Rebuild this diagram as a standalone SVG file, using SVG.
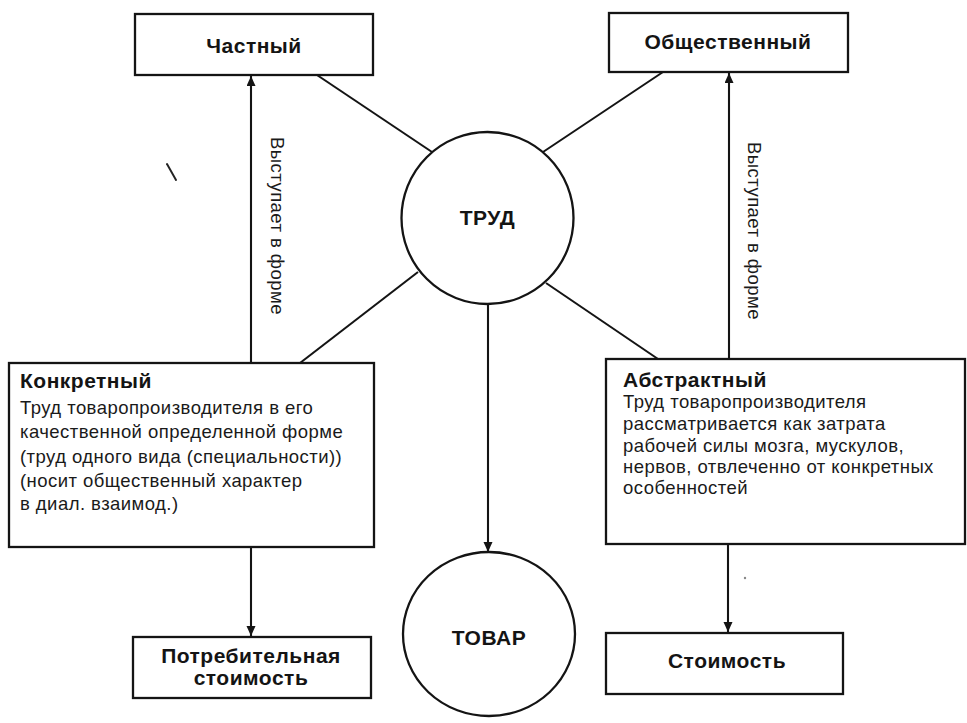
<svg xmlns="http://www.w3.org/2000/svg" width="967" height="723" viewBox="0 0 967 723">
  <style>
    .box { fill: none; stroke: #141414; stroke-width: 2.3; }
    .ring { fill: none; stroke: #141414; stroke-width: 2.3; }
    .link { stroke: #141414; stroke-width: 2.1; fill: none; }
    .title { font-family: "Liberation Sans", Arial, sans-serif; font-weight: bold; font-size: 21px; letter-spacing: 0.5px; fill: #141414; }
    .body { font-family: "Liberation Sans", Arial, sans-serif; font-size: 18.5px; letter-spacing: 0.45px; fill: #1a1a1a; }
    .label { font-family: "Liberation Sans", Arial, sans-serif; font-size: 18.5px; letter-spacing: 0.45px; fill: #1a1a1a; }
  </style>
  <defs>
    <marker id="arrow" markerUnits="userSpaceOnUse" markerWidth="11" markerHeight="10" refX="10" refY="4.5" orient="auto">
      <path d="M0,0 L10,4.5 L0,9 z" fill="#141414"/>
    </marker>
  </defs>

  <rect width="967" height="723" fill="#ffffff"/>

  <!-- connectors -->
  <g id="connectors">
    <line class="link" x1="317" y1="75" x2="432" y2="152"/>
    <line class="link" x1="663" y1="72" x2="543" y2="152"/>
    <line class="link" x1="418" y1="272" x2="300" y2="363"/>
    <line class="link" x1="546" y1="283" x2="658" y2="359"/>
    <line class="link" x1="251" y1="363" x2="251" y2="76" marker-end="url(#arrow)"/>
    <line class="link" x1="729" y1="359" x2="729" y2="73" marker-end="url(#arrow)"/>
    <line class="link" x1="488" y1="304" x2="488" y2="552" marker-end="url(#arrow)"/>
    <line class="link" x1="251" y1="547" x2="251" y2="636" marker-end="url(#arrow)"/>
    <line class="link" x1="728" y1="544" x2="728" y2="632" marker-end="url(#arrow)"/>
    <text class="label" transform="translate(271,226) rotate(90)" text-anchor="middle">Выступает в форме</text>
    <text class="label" transform="translate(748,231) rotate(90)" text-anchor="middle">Выступает в форме</text>
  </g>

  <!-- nodes -->
  <g id="chastny">
    <rect class="box" x="135" y="14" width="238" height="61"/>
    <text class="title" x="254" y="53" text-anchor="middle">Частный</text>
  </g>

  <g id="obshchestvenny">
    <rect class="box" x="609" y="13" width="239" height="59"/>
    <text class="title" x="728" y="49" text-anchor="middle">Общественный</text>
  </g>

  <g id="trud">
    <circle class="ring" cx="487.5" cy="218" r="86"/>
    <text class="title" x="487.5" y="225" text-anchor="middle">ТРУД</text>
  </g>

  <g id="konkretny">
    <rect class="box" x="9" y="363" width="365" height="184"/>
    <text class="title" x="20" y="388">Конкретный</text>
    <text class="body" x="20" y="414">Труд товаропроизводителя в его</text>
    <text class="body" x="20" y="438">качественной определенной форме</text>
    <text class="body" x="20" y="463">(труд одного вида (специальности))</text>
    <text class="body" x="20" y="487">(носит общественный характер</text>
    <text class="body" x="20" y="510">в диал. взаимод.)</text>
  </g>

  <g id="abstraktny">
    <rect class="box" x="606" y="359" width="359" height="185"/>
    <text class="title" x="623" y="387">Абстрактный</text>
    <text class="body" x="623" y="408">Труд товаропроизводителя</text>
    <text class="body" x="623" y="430">рассматривается как затрата</text>
    <text class="body" x="623" y="452">рабочей силы мозга, мускулов,</text>
    <text class="body" x="623" y="473">нервов, отвлеченно от конкретных</text>
    <text class="body" x="623" y="494">особенностей</text>
  </g>

  <g id="potrebitelnaya">
    <rect class="box" x="133" y="637" width="238" height="61"/>
    <text class="title" x="251" y="663" text-anchor="middle">Потребительная</text>
    <text class="title" x="251" y="685" text-anchor="middle">стоимость</text>
  </g>

  <g id="tovar">
    <ellipse class="ring" cx="489" cy="634" rx="86" ry="82"/>
    <text class="title" x="489" y="645" text-anchor="middle">ТОВАР</text>
  </g>

  <g id="stoimost">
    <rect class="box" x="606" y="633" width="237" height="61"/>
    <text class="title" x="727" y="668" text-anchor="middle">Стоимость</text>
  </g>

  <!-- stray pen marks -->
  <line x1="167" y1="164" x2="176" y2="180" stroke="#222" stroke-width="2" stroke-linecap="round"/>
  <circle cx="745" cy="578" r="1.2" fill="#888"/>
</svg>
